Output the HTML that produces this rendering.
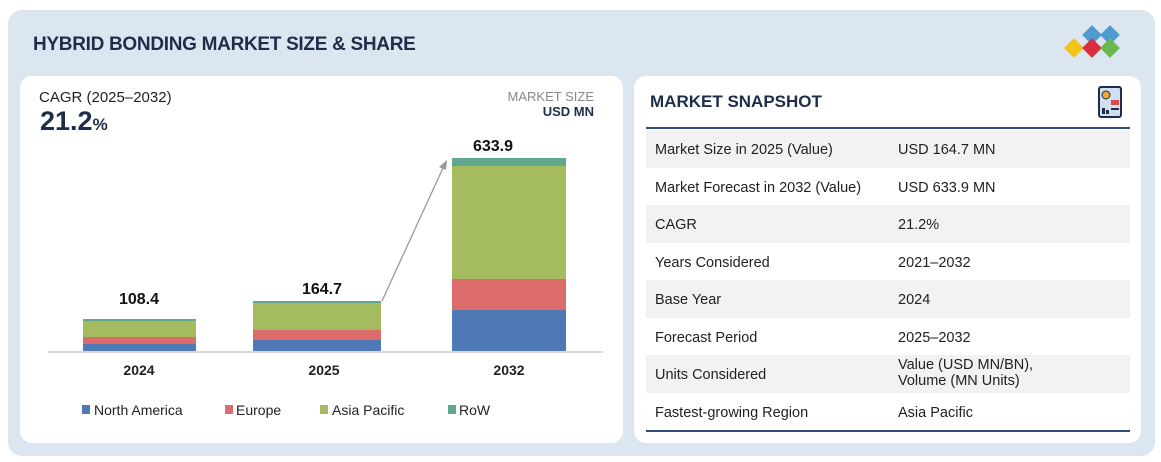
<!DOCTYPE html>
<html><head><style>
body{margin:0;width:1161px;height:462px;background:#fff;font-family:"Liberation Sans",sans-serif;position:relative;overflow:hidden}
.panel{position:absolute;left:8px;top:10px;width:1147px;height:446px;background:#dce6f1;border-radius:14px}
.card{position:absolute;background:#fff;border-radius:12px}
.t{position:absolute;white-space:nowrap}
.row{position:absolute;left:646px;width:484px;height:37.5px;font-size:14.5px;color:#222}
.row span{position:absolute;top:12px}
</style></head><body>
<div class="panel"></div>
<div class="t" style="left:33px;top:34px;font-size:19px;font-weight:bold;color:#1f2d4a;letter-spacing:-0.3px">HYBRID BONDING MARKET SIZE &amp; SHARE</div>
<svg style="position:absolute;left:1060px;top:25px" width="70" height="40">
<rect x="25" y="3" width="14" height="14" fill="#4f9bd0" transform="rotate(45 32 10)"/>
<rect x="43" y="3" width="14" height="14" fill="#4f9bd0" transform="rotate(45 50 10)"/>
<rect x="7" y="16" width="14" height="14" fill="#f0c419" transform="rotate(45 14 23)"/>
<rect x="25" y="16" width="14" height="14" fill="#d9303b" transform="rotate(45 32 23)"/>
<rect x="43" y="16" width="14" height="14" fill="#6bb84e" transform="rotate(45 50 23)"/>
</svg>
<div class="card" style="left:20px;top:76px;width:603px;height:367px"></div>
<div class="card" style="left:634px;top:76px;width:507px;height:367px"></div>
<div class="t" style="left:39px;top:89px;font-size:15px;color:#222">CAGR (2025–2032)</div>
<div class="t" style="left:40px;top:106px;font-size:27px;font-weight:bold;color:#1f2d4a">21.2<span style="font-size:17px">%</span></div>
<div class="t" style="right:567px;top:89px;font-size:13px;color:#888;text-align:right">MARKET SIZE</div>
<div class="t" style="right:567px;top:104px;font-size:13px;font-weight:bold;color:#1f2d4a">USD MN</div>
<svg style="position:absolute;left:0;top:0" width="630" height="462">
<line x1="48" y1="352" x2="603" y2="352" stroke="#d9d9d9" stroke-width="2"/>
<rect x="83" y="344" width="113" height="7" fill="#4e79b4"/>
<rect x="83" y="337" width="113" height="7" fill="#dc6b6b"/>
<rect x="83" y="321" width="113" height="16" fill="#a5bb5f"/>
<rect x="83" y="319" width="113" height="2" fill="#5fa88b"/>
<rect x="253" y="340" width="128" height="11" fill="#4e79b4"/>
<rect x="253" y="330" width="128" height="10" fill="#dc6b6b"/>
<rect x="253" y="303" width="128" height="27" fill="#a5bb5f"/>
<rect x="253" y="301" width="128" height="2" fill="#5fa88b"/>
<rect x="452" y="310" width="114" height="41" fill="#4e79b4"/>
<rect x="452" y="279" width="114" height="31" fill="#dc6b6b"/>
<rect x="452" y="166" width="114" height="113" fill="#a5bb5f"/>
<rect x="452" y="158" width="114" height="8" fill="#5fa88b"/>
<line x1="382" y1="301" x2="443" y2="168" stroke="#999" stroke-width="1.3"/>
<polygon points="447,160 439,167 446,170" fill="#999"/>
<g font-family="Liberation Sans" font-weight="bold" font-size="16" fill="#111" text-anchor="middle">
<text x="139" y="304">108.4</text><text x="322" y="294">164.7</text><text x="493" y="151">633.9</text>
</g>
<g font-family="Liberation Sans" font-weight="bold" font-size="14" fill="#222" text-anchor="middle">
<text x="139" y="375">2024</text><text x="324" y="375">2025</text><text x="509" y="375">2032</text>
</g>
<g font-family="Liberation Sans" font-size="14" fill="#222">
<rect x="82" y="405" width="8" height="9" fill="#4e79b4"/><text x="94" y="415">North America</text>
<rect x="225" y="405" width="8" height="9" fill="#dc6b6b"/><text x="236" y="415">Europe</text>
<rect x="320" y="405" width="8" height="9" fill="#a5bb5f"/><text x="332" y="415">Asia Pacific</text>
<rect x="448" y="405" width="8" height="9" fill="#5fa88b"/><text x="459" y="415">RoW</text>
</g>
</svg>
<div class="t" style="left:650px;top:92px;font-size:17px;font-weight:bold;color:#1f2d4a">MARKET SNAPSHOT</div>
<svg style="position:absolute;left:1096px;top:86px" width="28" height="34">
<rect x="3" y="1" width="22" height="30" rx="2" fill="#cfe0f0" stroke="#1f2d4a" stroke-width="2"/>
<circle cx="10" cy="9" r="4" fill="#f0a830" stroke="#1f2d4a"/>
<rect x="15" y="14" width="8" height="5" fill="#dc4b4b"/>
<rect x="6" y="22" width="3" height="6" fill="#1f2d4a"/><rect x="10" y="24" width="3" height="4" fill="#1f2d4a"/><rect x="15" y="22" width="8" height="2" fill="#1f2d4a"/>
</svg>
<div style="position:absolute;left:646px;top:127px;width:484px;height:2px;background:#2f4f7a"></div>
<div class="row" style="top:130px;background:#f2f2f2"><span style="left:9px">Market Size in 2025 (Value)</span><span style="left:252px">USD 164.7 MN</span></div>
<div class="row" style="top:167.5px"><span style="left:9px">Market Forecast in 2032 (Value)</span><span style="left:252px">USD 633.9 MN</span></div>
<div class="row" style="top:205px;background:#f2f2f2"><span style="left:9px">CAGR</span><span style="left:252px">21.2%</span></div>
<div class="row" style="top:242.5px"><span style="left:9px">Years Considered</span><span style="left:252px">2021–2032</span></div>
<div class="row" style="top:280px;background:#f2f2f2"><span style="left:9px">Base Year</span><span style="left:252px">2024</span></div>
<div class="row" style="top:317.5px"><span style="left:9px">Forecast Period</span><span style="left:252px">2025–2032</span></div>
<div class="row" style="top:355px;background:#f2f2f2"><span style="left:9px">Units Considered</span><span style="left:252px;top:2px;line-height:16px">Value (USD MN/BN),<br>Volume (MN Units)</span></div>
<div class="row" style="top:392.5px"><span style="left:9px">Fastest-growing Region</span><span style="left:252px">Asia Pacific</span></div>
<div style="position:absolute;left:646px;top:430px;width:484px;height:2px;background:#2f4f7a"></div>
</body></html>
